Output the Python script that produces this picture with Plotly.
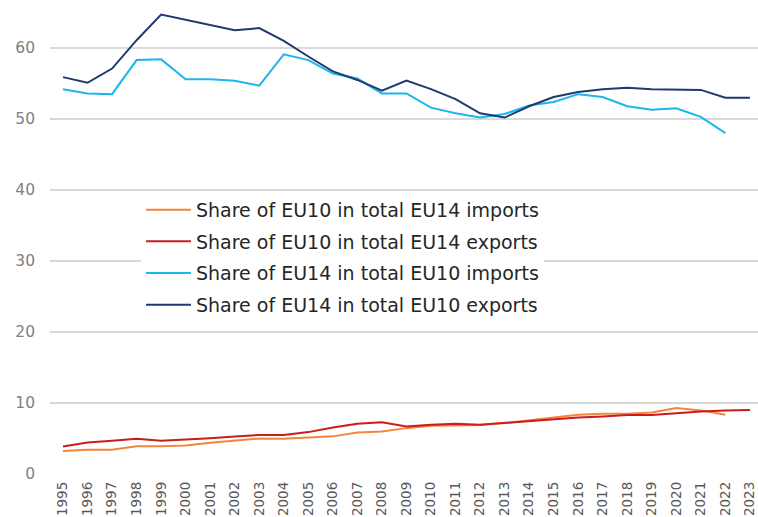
import plotly.graph_objects as go

years = [str(y) for y in range(1995, 2024)]

eu10_in_eu14_imports = [3.25, 3.4, 3.4, 3.9, 3.9, 4.0, 4.4, 4.7, 5.0, 4.95, 5.1, 5.3, 5.85, 6.0,
                        6.46, 6.79, 6.83, 6.9, 7.17, 7.6, 7.97, 8.35, 8.5, 8.5, 8.65, 9.3, 8.96, 8.35, None]
eu10_in_eu14_exports = [3.86, 4.43, 4.67, 4.95, 4.67, 4.81, 5.05, 5.28, 5.5, 5.5, 5.9, 6.55, 7.07, 7.3,
                        6.7, 6.93, 7.07, 6.93, 7.17, 7.5, 7.74, 7.97, 8.1, 8.3, 8.3, 8.6, 8.8, 8.96, 9.0]
eu14_in_eu10_imports = [54.2, 53.6, 53.5, 58.3, 58.4, 55.6, 55.6, 55.4, 54.7, 59.1, 58.3, 56.4, 55.7, 53.6,
                        53.6, 51.6, 50.8, 50.2, 50.7, 51.9, 52.4, 53.5, 53.1, 51.8, 51.3, 51.5, 50.3, 48.0, None]
eu14_in_eu10_exports = [55.9, 55.1, 57.1, 61.1, 64.7, 64.0, 63.2, 62.5, 62.8, 61.0, 58.8, 56.7, 55.5, 54.0,
                        55.4, 54.2, 52.8, 50.8, 50.2, 51.8, 53.1, 53.8, 54.2, 54.4, 54.2, 54.2, 54.1, 53.0, 53.0]

series_names = [
    "Share of EU10 in total EU14 imports",
    "Share of EU10 in total EU14 exports",
    "Share of EU14 in total EU10 imports",
    "Share of EU14 in total EU10 exports",
]
series_values = [eu10_in_eu14_imports, eu10_in_eu14_exports, eu14_in_eu10_imports, eu14_in_eu10_exports]
colors = ["#F5843C", "#CC1A1E", "#1CB6EE", "#1F3A6E"]

fig = go.Figure()
for i, (name, vals, col) in enumerate(zip(series_names, series_values, colors)):
    fig.add_trace(go.Scatter(
        x=years, y=vals, name=name, mode="lines",
        line=dict(color=col, width=2),
        legendgroup=f"g{i}",
    ))

fig.update_layout(
    width=758, height=517,
    margin=dict(l=50, r=0, t=0, b=43),
    paper_bgcolor="white", plot_bgcolor="white",
    font=dict(family="DejaVu Sans, Liberation Sans, sans-serif"),
    showlegend=True,
    legend=dict(
        x=0.1285, y=0.5975, xanchor="left", yanchor="top",
        bgcolor="white", borderwidth=0,
        font=dict(size=19, color="#262626"),
        traceorder="grouped", tracegroupgap=4,
        itemwidth=45,
    ),
    xaxis=dict(
        type="category", range=[-0.53, 28.33],
        tickangle=-90, showgrid=False, showline=False, zeroline=False,
        tickfont=dict(size=13.5, color="#595959"),
        ticks="", ticklabelstandoff=4,
    ),
    yaxis=dict(
        range=[0, 474 / 7.1], tickvals=[0, 10, 20, 30, 40, 50, 60],
        showgrid=True, gridcolor="#D9D9D9", gridwidth=1.5,
        zeroline=False, showline=False,
        tickfont=dict(size=15.5, color="#7F7F7F"),
        ticks="", ticklabelstandoff=14,
    ),
)

fig.write_html(
    "out.html",
    config={"displayModeBar": False},
    post_script="document.body.style.margin='0';document.body.style.overflow='hidden';",
)
